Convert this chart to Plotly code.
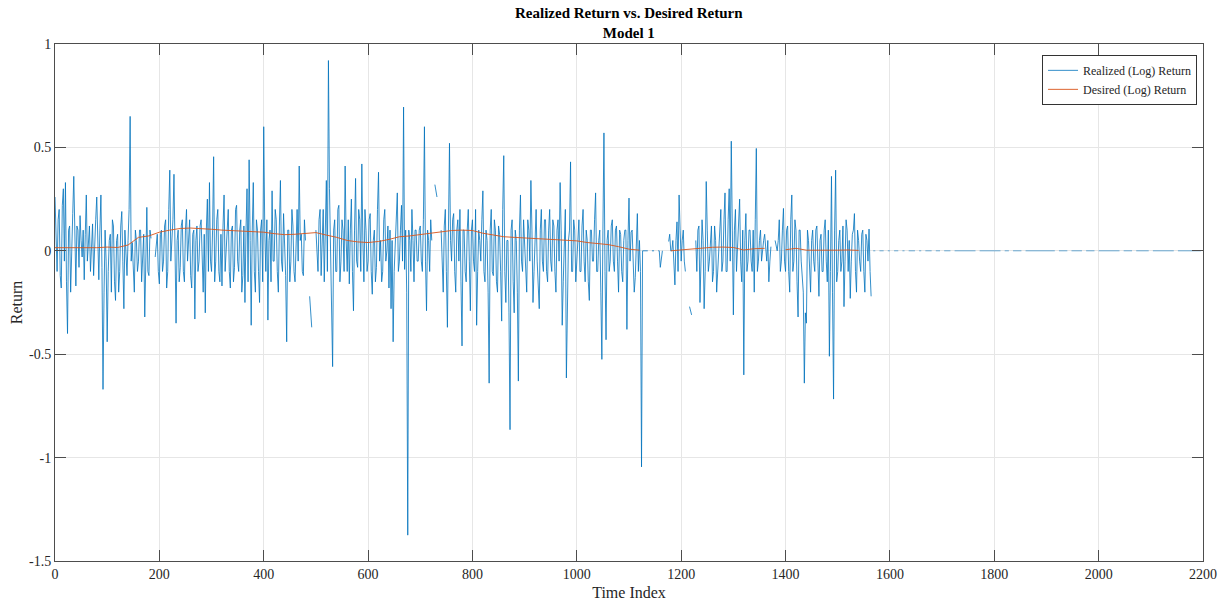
import plotly.graph_objects as go

# ---------------- data ----------------
# Realized (Log) Return: main samples every 4 time steps (r_*) and in-between samples (m_*)
realized_step = 2
r_000 = [0.26,-0.1,0.2,-0.18,0.3,0.33,-0.4,0.12,-0.05,0.36,-0.17,0.1,0.17,-0.03,-0.14,0.27,0.02,-0.1,0.13,0.05,0.26,-0.14,0.27,-0.67,0.1]
m_000 = [0.05,0.15,-0.12,0.22,-0.05,-0.15,0.1,-0.2,0.18,0.02,0.12,-0.08,0.05,0.1,0.08,-0.05,0.12,0.05,-0.12,0.15,-0.05,0.1,-0.08,-0.2,-0.05]
r_100 = [-0.44,0.05,-0.2,0.12,-0.24,0.08,-0.1,0.19,-0.28,0.0,0.05,0.65,0.04,-0.2,0.05,-0.05,0.1,0.02,-0.32,0.21,-0.12,0.06,None,-0.03,0.08]
m_100 = [-0.1,0.08,0.15,-0.15,0.05,-0.2,0.12,-0.05,0.1,-0.12,0.2,-0.05,-0.12,0.1,-0.1,0.1,-0.15,0.08,0.05,-0.1,0.1,None,None,0.05,-0.1]
r_200 = [-0.16,0.1,-0.05,0.15,-0.1,0.39,0.05,0.37,-0.35,0.1,-0.08,0.15,-0.15,0.2,0.05,-0.12,0.08,-0.33,0.12,-0.05,0.15,-0.2,-0.3,0.25,0.33]
m_200 = [0.08,-0.1,0.12,-0.18,0.2,-0.05,0.15,-0.1,0.05,-0.15,0.12,-0.1,0.1,-0.05,0.15,-0.18,0.1,0.05,-0.1,0.12,-0.1,0.08,0.1,-0.1,-0.05]
r_300 = [-0.1,0.455,-0.05,0.2,-0.15,-0.17,0.27,0.0,0.2,-0.18,0.12,-0.08,0.22,-0.1,0.15,-0.12,-0.25,0.3,0.44,-0.36,0.33,-0.2,0.1,-0.25,0.15]
m_300 = [0.1,-0.15,0.15,-0.1,0.08,0.12,-0.1,0.15,-0.1,0.1,-0.15,0.2,-0.05,0.1,-0.2,0.12,0.1,-0.15,0.05,0.1,-0.1,0.15,-0.1,0.1,-0.15]
r_400 = [0.60,-0.1,-0.335,0.1,0.29,-0.05,0.15,-0.2,0.34,-0.1,0.05,-0.44,0.1,-0.05,0.12,-0.15,0.2,0.41,0.08,-0.12,0.05,None,-0.22,-0.37,None]
m_400 = [0.1,0.15,0.05,-0.15,-0.05,0.2,-0.1,0.12,-0.05,0.18,-0.12,0.1,-0.15,0.2,-0.1,0.1,-0.05,0.05,-0.1,0.15,None,None,-0.3,None,None]
r_500 = [0.1,-0.1,0.2,0.05,-0.15,0.34,0.92,0.05,-0.56,0.15,-0.1,0.22,-0.05,0.1,0.41,-0.1,-0.16,0.25,-0.29,0.35,-0.08,0.15,0.42,-0.15,0.1]
m_500 = [-0.05,0.15,-0.12,0.2,0.1,-0.1,0.3,-0.2,0.1,-0.1,0.2,-0.15,0.15,-0.1,0.05,0.15,0.1,-0.1,0.1,-0.05,0.2,-0.1,0.05,0.2,-0.1]
r_600 = [-0.05,0.18,-0.21,0.1,-0.08,0.38,0.05,-0.1,0.2,0.0,-0.18,-0.28,-0.44,0.05,0.28,-0.05,0.22,0.695,0.1,-1.375,0.05,0.2,-0.15,0.1,-0.05]
m_600 = [0.15,-0.1,0.05,-0.15,0.2,-0.05,-0.15,0.15,-0.05,0.12,0.1,0.05,-0.1,0.15,-0.1,0.1,-0.05,-0.09,-0.2,0.1,-0.1,0.05,0.1,-0.05,0.1]
r_700 = [0.12,-0.1,0.60,-0.29,0.05,0.15,None,0.32,0.26,None,0.1,-0.2,0.2,-0.37,0.52,-0.05,0.18,-0.2,0.15,0.2,-0.46,0.1,-0.15,0.2,-0.29]
m_700 = [-0.05,0.15,-0.05,0.1,-0.1,0.05,None,0.29,None,None,-0.08,0.12,-0.1,0.1,0.05,0.15,-0.1,0.1,-0.05,-0.15,0.1,-0.1,0.1,-0.05,0.1]
r_800 = [0.15,-0.1,-0.36,0.1,-0.05,0.29,-0.15,0.05,-0.64,0.2,-0.12,0.1,-0.2,0.08,-0.34,0.46,-0.25,0.05,-0.865,0.15,-0.3,0.05,-0.63,0.27,-0.1]
m_800 = [-0.05,0.2,-0.1,0.05,0.15,-0.1,0.1,-0.2,0.1,-0.1,0.15,-0.15,0.12,-0.1,0.2,-0.1,0.05,-0.3,0.1,-0.15,0.1,-0.2,0.1,-0.05,0.15]
r_900 = [0.05,-0.2,0.1,0.34,-0.25,0.08,-0.05,-0.28,0.2,-0.1,0.15,-0.15,0.2,-0.1,0.12,-0.2,0.15,0.33,-0.36,0.1,-0.615,0.05,0.43,-0.1,0.1]
m_900 = [-0.1,0.15,-0.05,0.1,-0.1,0.2,-0.15,0.1,-0.05,0.15,-0.1,0.1,-0.05,0.15,-0.1,0.1,-0.05,0.1,-0.15,0.2,-0.1,0.1,-0.1,0.15,-0.15]
r_1000 = [-0.05,0.15,-0.1,0.2,-0.15,0.05,-0.24,0.1,-0.05,0.28,-0.1,0.1,-0.525,0.57,-0.43,0.1,-0.05,0.15,-0.1,0.12,-0.2,0.08,-0.15,0.1,-0.38]
m_1000 = [0.1,-0.1,0.12,-0.05,0.1,-0.15,0.1,-0.05,0.15,-0.1,0.05,-0.2,0.1,-0.1,0.05,-0.1,0.12,-0.05,0.1,-0.05,0.1,-0.1,0.05,0.1,0.05]
r_1100 = [0.255,0.09,-0.1,-0.13,0.18,0.05,-1.045,0.0,0.0,0.0,None,0.0,0.0,None,0.0,-0.08,0.0,None,None,0.045,0.0,0.05,-0.165,0.14,0.27]
m_1100 = [-0.05,0.1,-0.2,0.05,-0.1,-0.1,0.0,0.0,0.0,None,None,0.0,None,None,0.0,-0.04,None,None,None,0.08,0.0,-0.05,0.05,-0.1,0.1]
r_1200 = [-0.05,0.1,-0.1,None,-0.27,-0.31,None,0.05,0.1,-0.25,0.15,-0.28,0.335,-0.1,0.08,-0.15,0.12,-0.2,0.05,0.2,-0.05,0.28,-0.1,0.3,0.53]
m_1200 = [0.05,-0.05,None,None,-0.29,None,None,-0.1,0.12,-0.1,0.05,-0.1,0.1,-0.05,0.12,-0.1,0.05,-0.1,0.12,-0.1,0.15,-0.1,0.15,-0.05,0.1]
r_1300 = [-0.31,0.2,0.05,0.25,-0.15,-0.60,0.18,-0.05,0.1,-0.1,-0.2,0.495,-0.05,0.1,0.02,0.08,-0.05,-0.15,0.02,None,0.05,0.0,0.15,-0.05,0.205]
m_1300 = [0.1,-0.1,0.15,-0.05,0.1,0.05,-0.1,0.1,-0.05,0.1,0.15,-0.1,0.05,-0.05,0.05,-0.02,0.05,-0.05,None,None,0.02,0.05,-0.1,0.1,-0.05]
r_1400 = [-0.1,0.12,-0.2,0.27,-0.05,0.1,-0.32,0.1,-0.15,-0.64,-0.35,0.05,-0.2,0.1,-0.1,0.12,-0.22,0.08,-0.1,0.15,-0.15,-0.51,0.36,-0.717,0.39]
m_1400 = [0.1,-0.1,0.15,-0.1,0.15,-0.15,0.1,-0.05,-0.2,-0.3,0.1,-0.1,0.05,-0.05,0.1,-0.05,0.05,-0.1,0.1,-0.05,0.1,-0.1,-0.2,0.1,-0.15]
r_1500 = [-0.1,0.1,-0.05,-0.27,0.15,-0.1,-0.23,0.08,0.18,-0.2,0.05,-0.1,0.1,-0.2,0.05,0.105,-0.22]
m_1500 = [0.05,-0.1,0.12,-0.05,0.1,0.05,-0.05,0.1,-0.1,0.1,-0.05,0.08,-0.1,0.08,-0.05,-0.1,None]

# flat tail (time index 1568 .. 2196, every 4 steps), gaps are missing samples
tail_start = 1568
tail_step = 4
tail_a = [0,0,None,0,0,0,None,0,0,None,0,0,0,None,0,0,None,0,0,0]
tail_b = [0,None,0,0,None,0,0,0,0,None,0,0,0,None,0,0,0,0,None,0]
tail_c = [0,0,0,0,0,0,0,0,0,0,None,0,0,0,0,0,0,0,0,0]
tail_d = [0,0,None,0,0,0,None,0,0,0,0,0,None,0,0,0,0,0,0,0]
tail_e = [0,0,0,0,0,0,0,0,None,0,0,0,0,0,None,0,0,0,0,0]
tail_f = [0,None,0,0,0,0,0,None,0,0,0,0,0,0,0,0,0,0,0,None]
tail_g = [0,0,0,0,0,None,0,0,0,0,0,0,0,None,0,0,0,0,0,0]
tail_h = [0,0,0,0,0,None,0,0,0,0,0,0,0,0,0,0,0,0]

# Desired (Log) Return, every 20 time steps
desired_step = 20
desired = [0.015,0.015,0.014,0.013,0.015,0.018,0.016,0.028,0.065,0.072,
           0.09,0.1,0.108,0.11,0.108,0.104,0.1,0.098,0.095,0.093,
           0.09,0.083,0.078,0.08,0.085,0.088,0.076,0.065,0.05,0.043,
           0.04,0.045,0.055,0.068,0.072,0.078,0.085,0.092,0.098,0.1,
           0.098,0.085,0.078,0.068,0.065,0.062,0.06,0.058,0.056,0.052,
           0.048,0.04,0.035,0.03,0.02,0.008,0.003,None,None,0.0,
           0.004,0.01,0.015,0.017,0.018,0.016,0.004,0.01,0.012,None,
           0.005,0.012,0.003,0.002,0.004,0.003,0.004,0.002,None]

x_ticks = [0,200,400,600,800,1000,1200,1400,1600,1800,2000,2200]
y_ticks = [-1.5,-1,-0.5,0,0.5,1]
y_tick_text = ["-1.5","-1","-0.5","0","0.5","1"]

main_rows = [r_000,r_100,r_200,r_300,r_400,r_500,r_600,r_700,r_800,r_900,r_1000,r_1100,r_1200,r_1300,r_1400,r_1500]
mid_rows = [m_000,m_100,m_200,m_300,m_400,m_500,m_600,m_700,m_800,m_900,m_1000,m_1100,m_1200,m_1300,m_1400,m_1500]
realized = []
for rr, mm in zip(main_rows, mid_rows):
    assert len(rr) == len(mm)
    for a, b in zip(rr, mm):
        realized += [a, b]
tail = tail_a + tail_b + tail_c + tail_d + tail_e + tail_f + tail_g + tail_h

FONT = "Liberation Serif"
AX = "#262626"
BLUE = "#0072BD"
ORANGE = "#D95319"

fig = go.Figure()
fig.add_trace(go.Scatter(y=realized, x0=0, dx=realized_step, mode="lines",
                         name="Realized (Log) Return", legendgroup="r",
                         line=dict(color=BLUE, width=0.8), connectgaps=False))
fig.add_trace(go.Scatter(y=tail, x0=tail_start, dx=tail_step, mode="lines",
                         name="Realized (Log) Return", legendgroup="r", showlegend=False,
                         line=dict(color=BLUE, width=0.8), opacity=0.7, connectgaps=False))
fig.add_trace(go.Scatter(y=desired, x0=0, dx=desired_step, mode="lines",
                         name="Desired (Log) Return",
                         line=dict(color=ORANGE, width=0.9), connectgaps=False))

axis_common = dict(showline=True, linecolor="#4d4d4d", linewidth=1, mirror="ticks",
                   ticks="inside", ticklen=11, tickcolor="#4d4d4d", tickwidth=1,
                   showgrid=True, gridcolor="#e6e6e6", gridwidth=1, zeroline=False,
                   automargin=False,
                   tickfont=dict(family=FONT, size=14, color=AX))

fig.update_layout(
    width=1232, height=602,
    margin=dict(l=55, r=29, t=44, b=41),
    paper_bgcolor="white", plot_bgcolor="white",
    font=dict(family=FONT, color=AX),
    xaxis=dict(range=[0, 2200], tickvals=x_ticks,
               title=dict(text="Time Index", font=dict(family=FONT, size=16, color=AX), standoff=6),
               **axis_common),
    yaxis=dict(range=[-1.5, 1], tickvals=y_ticks, ticktext=y_tick_text,
               title=dict(text="Return", font=dict(family=FONT, size=16, color=AX), standoff=2),
               **axis_common),
    legend=dict(x=0.9948, xanchor="right", y=0.979, yanchor="top",
                bgcolor="white", bordercolor="#333333", borderwidth=1,
                font=dict(family=FONT, size=12, color=AX),
                tracegroupgap=0, itemwidth=30),
    showlegend=True,
    annotations=[dict(text="<b>Realized Return vs. Desired Return</b><br><b>Model 1</b>",
                      xref="paper", yref="paper", x=0.5, y=1.0, yshift=1,
                      xanchor="center", yanchor="bottom", showarrow=False,
                      font=dict(family=FONT, size=15, color="#000000"))],
)

fig.write_html("out.html")
